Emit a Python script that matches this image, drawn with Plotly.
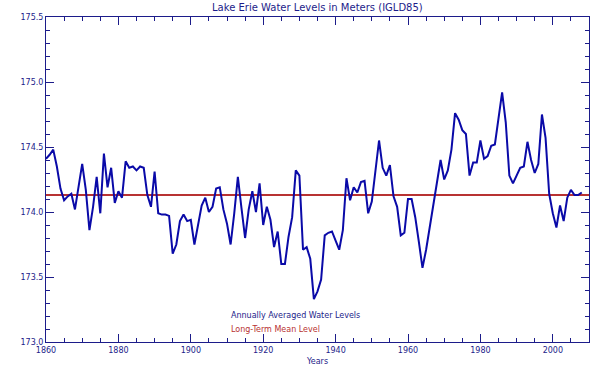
import plotly.graph_objects as go

years = list(range(1860, 2009))
levels = [
    174.41, 174.44, 174.48, 174.35, 174.18, 174.09, 174.12, 174.14, 174.02, 174.19,  # 1860s
    174.37, 174.17, 173.86, 174.04, 174.27, 173.99, 174.45, 174.19, 174.34, 174.07,  # 1870s
    174.16, 174.11, 174.39, 174.34, 174.35, 174.32, 174.35, 174.34, 174.13, 174.04,  # 1880s
    174.31, 173.99, 173.98, 173.98, 173.97, 173.68, 173.75, 173.93, 173.98, 173.93,  # 1890s
    173.94, 173.75, 173.89, 174.05, 174.11, 174.00, 174.04, 174.18, 174.19, 174.02,  # 1900s
    173.91, 173.75, 173.99, 174.27, 174.03, 173.80, 174.02, 174.16, 174.00, 174.22,  # 1910s
    173.90, 174.04, 173.94, 173.73, 173.85, 173.60, 173.60, 173.81, 173.96, 174.32,  # 1920s
    174.28, 173.71, 173.73, 173.64, 173.33, 173.39, 173.48, 173.82, 173.84, 173.85,  # 1930s
    173.78, 173.71, 173.86, 174.26, 174.09, 174.19, 174.15, 174.23, 174.24, 173.99,  # 1940s
    174.08, 174.32, 174.55, 174.34, 174.28, 174.36, 174.12, 174.04, 173.82, 173.84,  # 1950s
    174.10, 174.10, 173.96, 173.77, 173.57, 173.71, 173.89, 174.07, 174.25, 174.40,  # 1960s
    174.25, 174.32, 174.48, 174.76, 174.71, 174.63, 174.60, 174.28, 174.38, 174.38,  # 1970s
    174.55, 174.41, 174.43, 174.51, 174.52, 174.72, 174.92, 174.69, 174.28, 174.22,  # 1980s
    174.28, 174.34, 174.35, 174.54, 174.40, 174.30, 174.37, 174.75, 174.57, 174.14,  # 1990s
    173.99, 173.88, 174.05, 173.93, 174.11, 174.17, 174.13, 174.13, 174.15,          # 2000s
]
mean_level = 174.13
mean_years = [1860, 2010]

title_text = "Lake Erie Water Levels in Meters (IGLD85)"
x_title = "Years"
legend_labels = ["Annually Averaged Water Levels", "Long-Term Mean Level"]

navy = "#1c1c8a"
line_blue = "#0a0aa8"
red = "#b83232"
font_family = "DejaVu Sans"

fig = go.Figure()
fig.add_trace(go.Scatter(x=mean_years, y=[mean_level, mean_level], mode="lines",
                         line=dict(color=red, width=2), showlegend=False, hoverinfo="skip"))
fig.add_trace(go.Scatter(x=years, y=levels, mode="lines",
                         line=dict(color=line_blue, width=2), showlegend=False))

axis_common = dict(showline=True, linecolor=navy, linewidth=1, mirror="allticks",
                   ticks="inside", tickcolor=navy, showgrid=False, zeroline=False,
                   automargin=False,
                   tickfont=dict(family=font_family, size=8, color=navy))

fig.update_xaxes(range=[1860, 2010], tickmode="array",
                 tickvals=[1860, 1880, 1900, 1920, 1940, 1960, 1980, 2000],
                 ticktext=["1860", "1880", "1900", "1920", "1940", "1960", "1980", "2000"],
                 ticklen=8,
                 minor=dict(dtick=5, ticks="inside", ticklen=4, tickcolor=navy, showgrid=False),
                 title=dict(text=x_title, font=dict(family=font_family, size=8, color=navy),
                            standoff=4),
                 **axis_common)
fig.update_yaxes(range=[173.0, 175.5], tickmode="array",
                 tickvals=[173.0, 173.5, 174.0, 174.5, 175.0, 175.5],
                 ticktext=["173.0", "173.5", "174.0", "174.5", "175.0", "175.5"],
                 ticklen=8,
                 minor=dict(dtick=0.1, ticks="inside", ticklen=4, tickcolor=navy, showgrid=False),
                 **axis_common)

fig.add_annotation(xref="x", yref="y", x=1910.6, y=173.205, xanchor="left", yanchor="middle",
                   text=legend_labels[0], showarrow=False,
                   font=dict(family=font_family, size=8, color=navy))
fig.add_annotation(xref="x", yref="y", x=1910.6, y=173.1, xanchor="left", yanchor="middle",
                   text=legend_labels[1], showarrow=False,
                   font=dict(family=font_family, size=8, color=red))

fig.update_layout(
    width=600, height=375,
    margin=dict(l=46, r=11, t=17, b=33, autoexpand=False),
    paper_bgcolor="white", plot_bgcolor="white",
    title=dict(text=title_text, x=0.529, xanchor="center", y=0.98, yanchor="middle",
               font=dict(family=font_family, size=10, color=navy)),
)

fig.write_html("out.html", config={"displayModeBar": False},
               post_script="document.body.style.margin='0';")
